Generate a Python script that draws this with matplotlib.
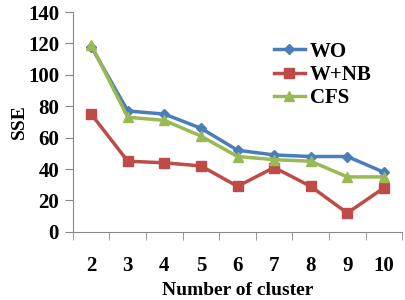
import numpy as np
import matplotlib.pyplot as plt

clusters = ["2", "3", "4", "5", "6", "7", "8", "9", "10"]
wo = [118, 77, 75, 66, 52, 49, 48, 48, 38]
w_nb = [75, 45, 44, 42, 29, 41, 29, 12, 28]
cfs = [119, 73, 71, 61, 48, 46, 45, 35, 35]

plt.rcParams['font.family'] = ['Liberation Serif', 'DejaVu Serif']
plt.rcParams['font.weight'] = 'bold'

fig = plt.figure(figsize=(4.05, 3.0), dpi=100)
ax = fig.add_axes([0.18, 0.227, 0.813, 0.733])

x = np.arange(len(clusters))
ax.plot(x, wo, color='#4A7EBB', marker='D', markersize=5, linewidth=2.5, label='WO')
ax.plot(x, w_nb, color='#BE4B48', marker='s', markersize=7, linewidth=2.5, label='W+NB')
ax.plot(x, cfs, color='#98B954', marker='^', markersize=7, linewidth=2.5, label='CFS')

ax.set_xlim(-0.5, len(clusters) - 0.5)
ax.set_ylim(0, 140)
ax.set_yticks(range(0, 141, 20))
ax.set_xticks(x)
ax.set_xticklabels(clusters)
ax.set_xticks(np.arange(-0.5, len(clusters)), minor=True)
ax.tick_params(axis='x', which='major', length=0, pad=17, labelsize=15)
ax.tick_params(axis='x', which='minor', length=6, color='#888888', direction='out')
ax.tick_params(axis='y', length=6, color='#888888', labelsize=15, pad=4)

for s in ['top', 'right']:
    ax.spines[s].set_visible(False)
ax.spines['left'].set_color('#888888')
ax.spines['bottom'].set_color('#888888')

ax.set_ylabel('SSE', fontsize=14, fontweight='bold', labelpad=0)
ax.set_xlabel('Number of cluster', fontsize=14, fontweight='bold', labelpad=5)

ax.legend(loc='upper right', bbox_to_anchor=(0.965, 0.95), frameon=False,
          handlelength=1.5, labelspacing=0.15, handletextpad=0.25,
          prop={'weight': 'bold', 'size': 15})

fig.savefig('out.png', dpi=100)
